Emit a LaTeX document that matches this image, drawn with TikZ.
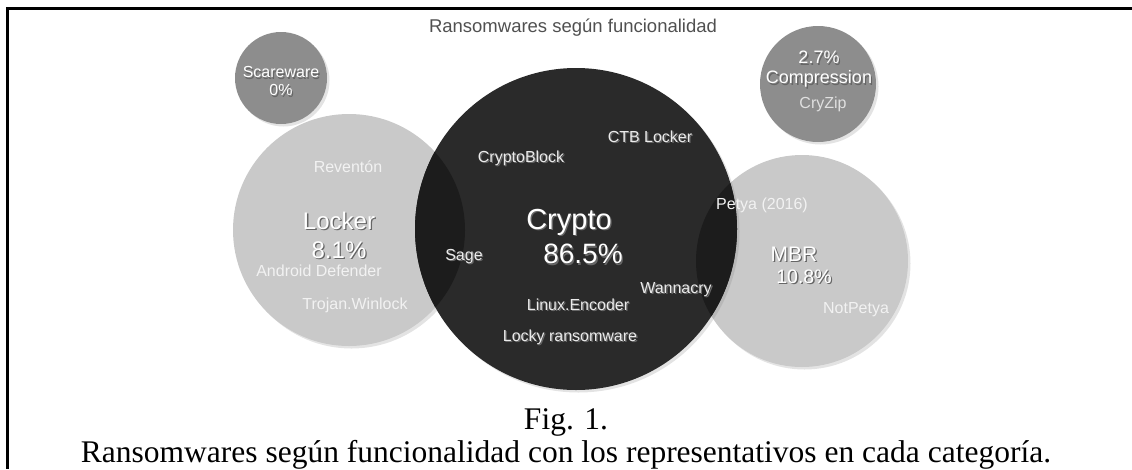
\documentclass[tikz,border=0pt]{standalone}
\usepackage{fontspec}
\setmainfont{Liberation Serif}
\setsansfont{Liberation Sans}
\usetikzlibrary{positioning,shadows}

\definecolor{darkbub}{HTML}{2A2A2A}
\definecolor{darkover}{HTML}{1C1C1C}
\definecolor{lightbub}{HTML}{C9C9C9}
\definecolor{midbub}{HTML}{8D8D8D}
\definecolor{titlegray}{HTML}{505050}
\definecolor{softwhite}{HTML}{F2F2F2}

\newcommand{\shtext}[1]{\leavevmode\rlap{\kern1.3pt\raisebox{-1.3pt}{\textcolor{black!60}{#1}}}#1}

\tikzstyle{bub} = [circle, inner sep=0pt, draw=none, drop shadow={opacity=0.22, shadow xshift=2.5pt, shadow yshift=-2.5pt}]
\tikzstyle{lbl} = [inner sep=0pt, font=\sffamily\fontsize{16}{18}\selectfont, text=softwhite]
\tikzstyle{cat} = [inner sep=0pt, align=center, text=white]

\begin{document}
\begin{tikzpicture}[x=1pt,y=-1pt]
\useasboundingbox (0,0) rectangle (1132,469);

% frame
\draw[line width=2.6pt] (1132,8.7) -- (7.6,8.7) -- (7.6,469);

\node (title) [inner sep=0pt, font=\sffamily\fontsize{18.5}{20}\selectfont, text=titlegray] at (573,28) {Ransomwares según funcionalidad};

% bubbles
\node (scare) [bub, fill=midbub, minimum size=92pt] at (281,78) {};
\node (comp) [bub, fill=midbub, minimum size=116pt] at (818,84) {};
\node (locker) [bub, fill=lightbub, minimum size=232pt] at (349,230) {};
\node (mbr) [bub, fill=lightbub, minimum size=212pt] at (802,261) {};
\node (crypto) [bub, fill=darkbub, minimum size=322pt] at (576,229) {};

\begin{scope}
    \clip (crypto.center) circle (161);
    \fill[darkover] (locker.center) circle (116);
    \fill[darkover] (mbr.center) circle (106);
\end{scope}

% category labels
\node (scaretxt) [cat, font=\sffamily\fontsize{16}{18}\selectfont] at (281,82) {\shtext{Scareware}\\\shtext{0\%}};
\node (comptxt) [cat, font=\sffamily\fontsize{18}{20}\selectfont] at (819,70) {\shtext{2.7\%}\\\shtext{Compression}};
\node (lockertxt) [cat, font=\sffamily\fontsize{24}{29}\selectfont] at (339,236) {\shtext{Locker}\\\shtext{8.1\%}};
\node (mbrname) [cat, font=\sffamily\fontsize{21}{21}\selectfont] at (794,255) {\shtext{MBR}};
\node (mbrpct) [cat, font=\sffamily\fontsize{19.5}{21}\selectfont] at (804,277) {\shtext{10.8\%}};
\node (cryptoname) [cat, font=\sffamily\fontsize{29}{30}\selectfont] at (569,223) {\shtext{Crypto}};
\node (cryptopct) [cat, font=\sffamily\fontsize{28}{30}\selectfont] at (583,255) {\shtext{86.5\%}};

% representatives
\node (cryzip) [lbl, text=black!12] at (823,104) {CryZip};
\node (reventon) [lbl] at (348,167) {Reventón};
\node (android) [lbl] at (319,271) {Android Defender};
\node (winlock) [lbl] at (355,305) {Trojan.Winlock};
\node (notpetya) [lbl] at (856,310) {NotPetya};
\node (cblock) [lbl, text=black!8] at (521,159) {\shtext{CryptoBlock}};
\node (ctb) [lbl, text=black!8] at (650,137) {\shtext{CTB Locker}};
\node (sage) [lbl, text=black!8] at (464,257) {\shtext{Sage}};
\node (wanna) [lbl, text=black!8] at (676,290) {\shtext{Wannacry}};
\node (linux) [lbl, text=black!8] at (578,305) {\shtext{Linux.Encoder}};
\node (locky) [lbl, text=black!8] at (570,338) {\shtext{Locky ransomware}};
\node (petya) [lbl] at (762,205) {Petya (2016)};

% caption
\node (fig) [anchor=base, inner sep=0pt, font=\fontsize{31.5}{33}\selectfont] at (566,429) {Fig. 1.};
\node (caption) [anchor=base, inner sep=0pt, font=\fontsize{31.5}{33}\selectfont] at (566,462) {Ransomwares según funcionalidad con los representativos en cada categoría.};

\end{tikzpicture}
\end{document}
